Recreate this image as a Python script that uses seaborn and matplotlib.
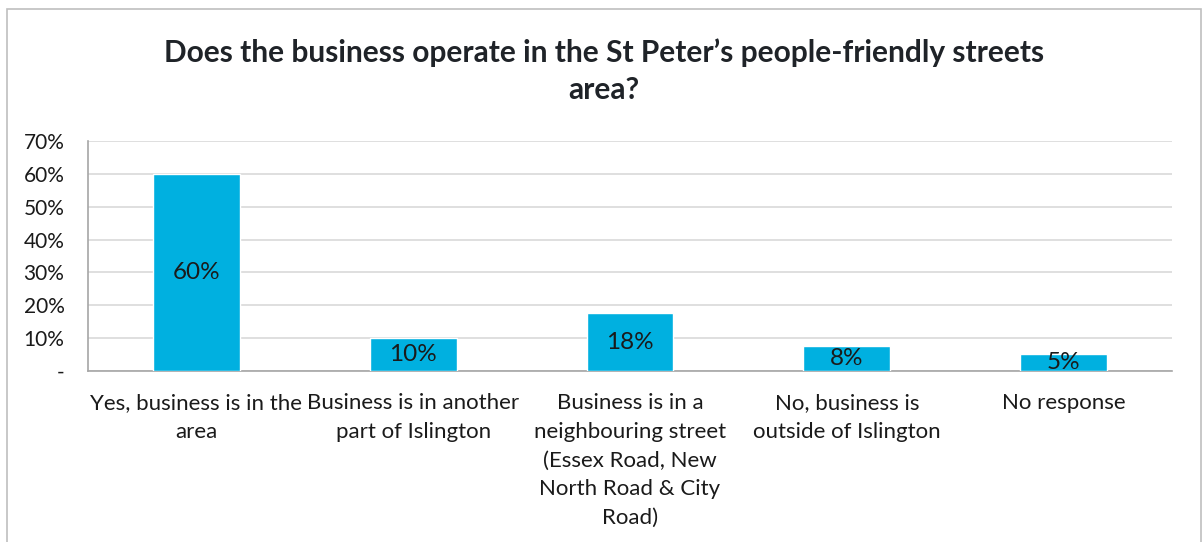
import matplotlib
matplotlib.use("Agg")
import matplotlib.pyplot as plt
from matplotlib.patches import Rectangle
from matplotlib.ticker import FuncFormatter, MultipleLocator
import seaborn as sns
import pandas as pd

categories = [
    "Yes, business is in the\narea",
    "Business is in another\npart of Islington",
    "Business is in a\nneighbouring street\n(Essex Road, New\nNorth Road & City\nRoad)",
    "No, business is\noutside of Islington",
    "No response",
]
shares = [60.0, 10.0, 17.6, 7.6, 5.2]

title = "Does the business operate in the St Peter\u2019s people-friendly streets\narea?"

sns.set_theme(style="white")
plt.rcParams["font.family"] = ["Lato", "DejaVu Sans"]

bar_color = "#00B0E0"
text_color = "#1a1a1a"
axis_color = "#a6a6a6"
grid_color = "#d9d9d9"

df = pd.DataFrame({"category": categories, "share": shares})

fig = plt.figure(figsize=(12.03, 5.42), dpi=100)
fig.patch.set_facecolor("white")
ax = fig.add_axes([88 / 1203, 1 - 371 / 542, (1172 - 88) / 1203, (371 - 141) / 542])

sns.barplot(data=df, x="category", y="share", color=bar_color, width=0.4,
            saturation=1, ax=ax, zorder=3)

ax.set_xlim(-0.5, 4.5)
ax.set_ylim(0, 70)
ax.yaxis.set_major_locator(MultipleLocator(10))
ax.yaxis.set_major_formatter(FuncFormatter(lambda v, _: "-" if v == 0 else f"{v:.0f}%"))
ax.grid(axis="y", color=grid_color, linewidth=1.2, zorder=0)
ax.set_axisbelow(True)
ax.set_xlabel("")
ax.set_ylabel("")

for side in ("top", "right"):
    ax.spines[side].set_visible(False)
for side in ("left", "bottom"):
    ax.spines[side].set_color(axis_color)
    ax.spines[side].set_linewidth(1.2)

ax.tick_params(axis="y", which="major", length=7, width=1.2, color=axis_color,
               labelsize=15, labelcolor=text_color, pad=10)
ax.tick_params(axis="x", which="major", length=0, labelsize=16,
               labelcolor=text_color, pad=16)
ax.set_xticks([i - 0.5 for i in range(len(categories) + 1)], minor=True)
ax.tick_params(axis="x", which="minor", length=7, width=1.2, color=axis_color)
for lbl in ax.get_xticklabels():
    lbl.set_multialignment("center")
    lbl.set_linespacing(1.54)

for i, v in enumerate(shares):
    ax.text(i, v / 2, f"{v:.0f}%", ha="center", va="center", fontsize=17.5,
            color=text_color, zorder=4)

fig.text(604 / 1203, 1 - 71 / 542, title, ha="center", va="center",
         fontsize=21.5, fontweight="bold", color="#1f2328", linespacing=1.4)

fig.patches.append(Rectangle((7 / 1203, -0.02), (1201 - 7) / 1203, 1 - 9 / 542 + 0.02,
                             transform=fig.transFigure, fill=False,
                             edgecolor="#bfbfbf", linewidth=1.2))

fig.savefig("out.png", dpi=100, facecolor="white")
